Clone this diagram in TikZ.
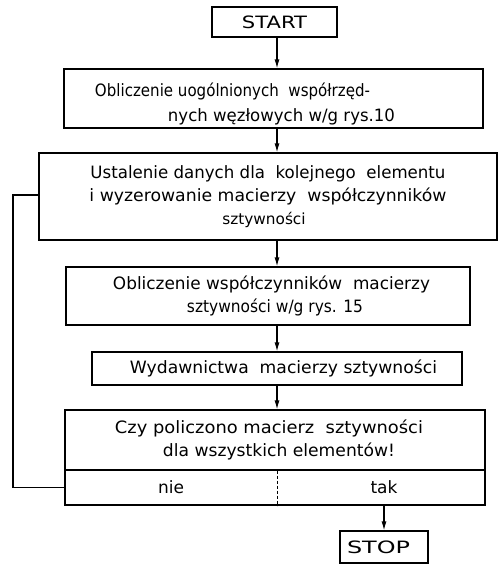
\documentclass[tikz,border=0pt]{standalone}
\usepackage{graphicx}
\usepackage{fontspec}
\setmainfont{DejaVu Sans}
\usetikzlibrary{arrows.meta}

% set one line of lettering to a given width, keeping its height
\newcommand{\fitw}[2]{\resizebox{#1}{\height}{#2}}

\begin{document}
\begin{tikzpicture}[x=1pt,y=-1pt,
  box/.style={draw, line width=1.2pt, inner sep=0pt, align=center,
              font=\fontsize{17}{23}\selectfont},
  label/.style={inner sep=0pt, font=\fontsize{17}{23}\selectfont},
  arr/.style={line width=1.2pt, -{Latex[length=9pt,width=5pt]}},
  back/.style={line width=1.5pt},
  divider/.style={line width=0.9pt, densely dashed}]

\useasboundingbox (0,0) rectangle (499,565);

% vertical spine that the main arrows follow
\coordinate (ax) at (277,0);

\node[box, minimum width=125pt, minimum height=30pt] (start) at (274.5,22)
  {\fitw{65pt}{START}};

\node[box, minimum width=419pt, minimum height=59pt] (b2) at (273.5,98.5)
  {\rule{0pt}{25pt}\fitw{275pt}{Obliczenie uogólnionych \ współrzęd-}\hspace*{82pt}\\[2pt]
   \hspace*{16pt}\fitw{227pt}{nych węzłowych w/g rys.10}};

\node[box, minimum width=458pt, minimum height=87pt] (b3) at (268,196.5)
  {\fitw{355pt}{Ustalenie danych dla \ kolejnego \ elementu}\\
   \fitw{357pt}{i wyzerowanie macierzy \ współczynników}\\
   \scalebox{0.9}{sztywności}\hspace*{8pt}};

\node[box, minimum width=404pt, minimum height=58pt] (b4) at (268,296)
  {\hspace*{7pt}\fitw{317pt}{Obliczenie współczynników \ macierzy}\\
   \hspace*{14pt}\fitw{176pt}{sztywności w/g rys. 15}};

\node[box, minimum width=370pt, minimum height=33pt] (b5) at (277,368.5)
  {\hspace*{13pt}\fitw{307pt}{Wydawnictwa \ macierzy sztywności}};

\node[box, minimum width=420pt, minimum height=60pt] (b6) at (275,440)
  {\fitw{308pt}{Czy policzono macierz \ sztywności}\hspace*{12pt}\\
   \hspace*{8pt}\fitw{232pt}{dla wszystkich elementów!}};

% answer row under the question
\node[box, minimum width=420pt, minimum height=35pt] (ans) at (275,487.5) {};
\node[label] (nie) at (171,487.5) {nie};
\node[label] (tak) at (384,487.5) {tak};
\draw[divider] (b6.south -| ax) -- (ans.south -| ax);

\node[box, minimum width=88pt, minimum height=32pt] (stop) at (384,547)
  {\fitw{63pt}{STOP}\hspace*{11pt}};

% main flow
\draw[arr] (start.south -| ax) -- (b2.north -| ax);
\draw[arr] (b2.south -| ax) -- (b3.north -| ax);
\draw[arr] (b3.south -| ax) -- (b4.north -| ax);
\draw[arr] (b4.south -| ax) -- (b5.north -| ax);
\draw[arr] (b5.south -| ax) -- (b6.north -| ax);
\draw[arr] (ans.south -| stop) -- (stop.north);

% loop back for the next element
\coordinate (lp) at (13,195);
\draw[back] (ans.west) -| (lp) -- (lp -| b3.west);
\end{tikzpicture}
\end{document}
